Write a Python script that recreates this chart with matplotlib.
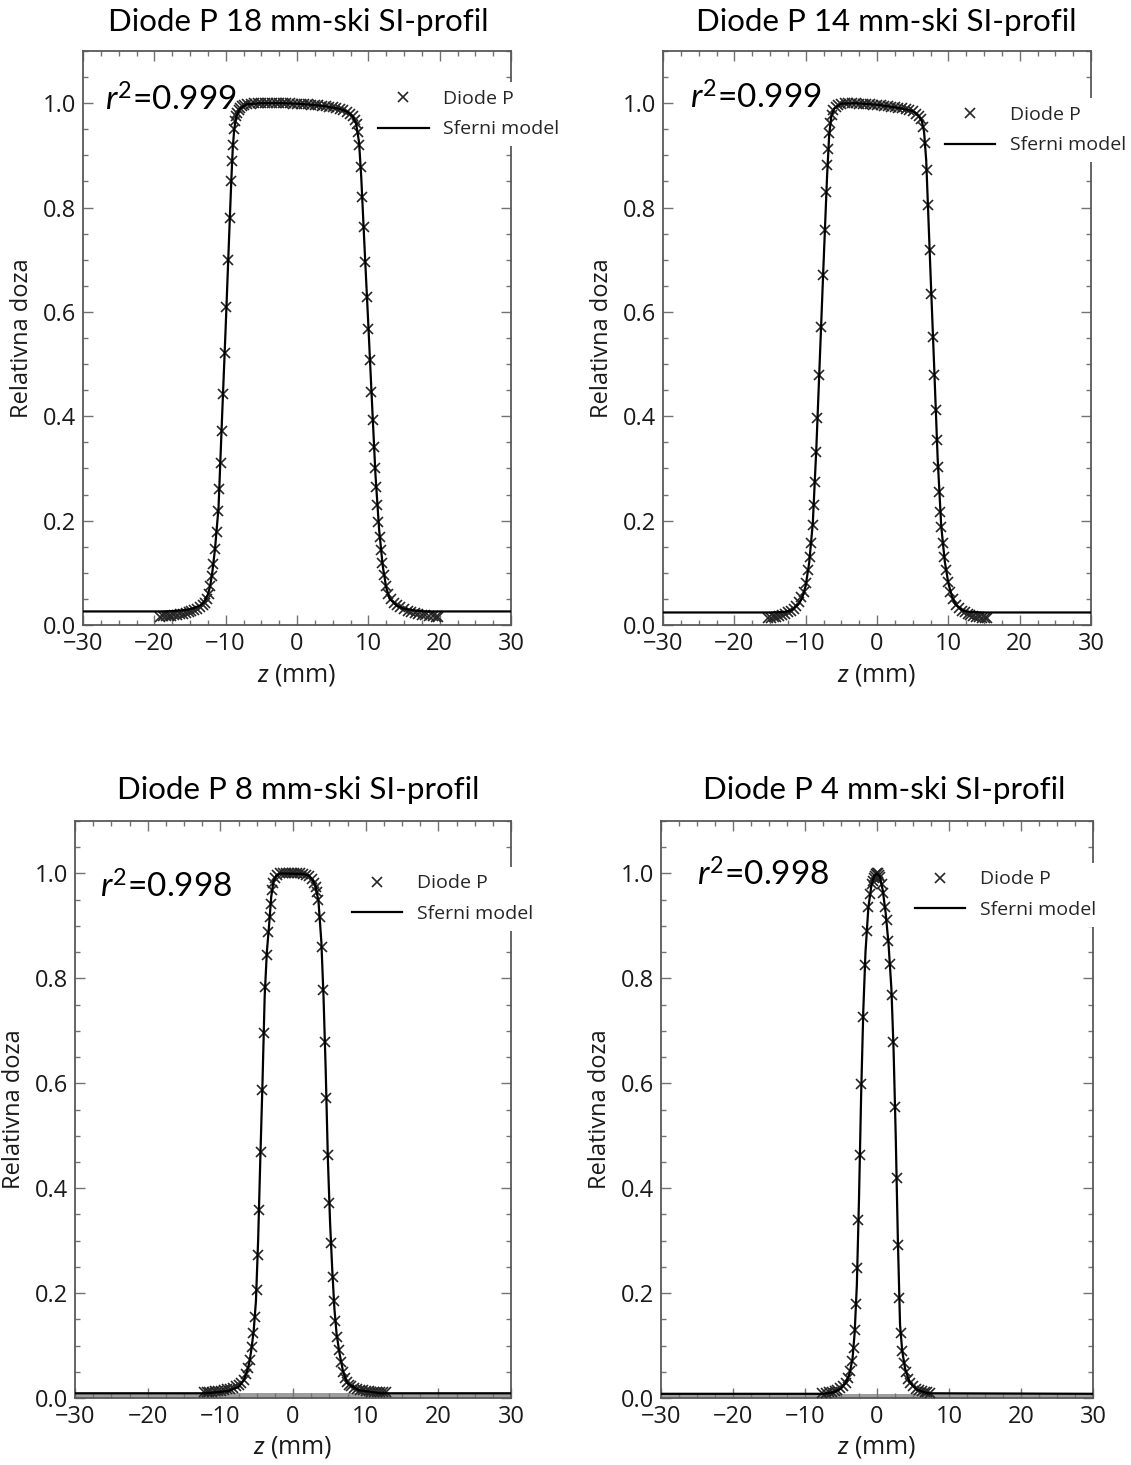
import matplotlib
matplotlib.use("Agg")
import matplotlib.pyplot as plt
from matplotlib.ticker import MultipleLocator, AutoMinorLocator

plt.rcParams['font.family'] = ['Open Sans', 'DejaVu Sans']
plt.rcParams['mathtext.fontset'] = 'custom'
plt.rcParams['mathtext.rm'] = 'Lato'
plt.rcParams['mathtext.it'] = 'Lato:italic'

# ---------------- data ----------------
titles = ["Diode P 18 mm-ski SI-profil", "Diode P 14 mm-ski SI-profil",
          "Diode P 8 mm-ski SI-profil", "Diode P 4 mm-ski SI-profil"]
r2_labels = ["0.999", "0.999", "0.998", "0.998"]

# 18 mm measured
z_18 = [-19.2, -18.8, -18.4, -18.0, -17.6, -17.2, -16.8, -16.4, -16.0, -15.6,
        -15.2, -14.8, -14.4, -14.0, -13.6, -13.2, -12.9, -12.6, -12.4, -12.2,
        -11.96, -11.73, -11.49, -11.26, -11.03, -10.89, -10.72, -10.58, -10.38, -10.15,
        -9.9, -9.64, -9.42, -9.22, -9.1, -8.99, -8.9, -8.75, -8.6, -8.4,
        -8.2, -8.0, -7.7, -7.4, -7.0, -6.5, -6.0, -5.5, -5.0, -4.5,
        -4.0, -3.5, -3.0, -2.5, -2.0, -1.5, -1.0, -0.5, 0.0, 0.5,
        1.0, 1.5, 2.0, 2.5, 3.0, 3.5, 4.0, 4.5, 5.0, 5.5,
        6.0, 6.5, 7.0, 7.4, 7.8, 8.1, 8.37, 8.6, 8.74, 8.93,
        9.13, 9.33, 9.57, 9.80, 10.02, 10.23, 10.44, 10.63, 10.81, 10.96,
        11.08, 11.25, 11.42, 11.6, 11.78, 11.98, 12.2, 12.45, 12.8, 13.2,
        13.6, 14.0, 14.5, 15.0, 15.5, 16.0, 16.5, 17.0, 17.5, 18.0,
        18.5, 19.0, 19.5, 19.8]
d_18 = [0.016, 0.017, 0.017, 0.018, 0.018, 0.019, 0.020, 0.021, 0.022, 0.023,
        0.024, 0.026, 0.028, 0.030, 0.034, 0.038, 0.043, 0.050, 0.060, 0.075,
        0.094, 0.117, 0.146, 0.179, 0.219, 0.261, 0.311, 0.372, 0.443, 0.522,
        0.610, 0.700, 0.780, 0.850, 0.890, 0.920, 0.950, 0.965, 0.975, 0.982,
        0.987, 0.991, 0.994, 0.996, 0.998, 0.999, 1.000, 1.000, 1.000, 1.000,
        1.000, 1.000, 1.000, 1.000, 1.000, 1.000, 1.000, 0.999, 0.999, 0.999,
        0.998, 0.998, 0.997, 0.997, 0.996, 0.995, 0.994, 0.993, 0.992, 0.990,
        0.989, 0.987, 0.984, 0.980, 0.975, 0.968, 0.961, 0.945, 0.920, 0.878,
        0.820, 0.763, 0.696, 0.629, 0.568, 0.508, 0.447, 0.393, 0.342, 0.300,
        0.265, 0.230, 0.198, 0.169, 0.144, 0.118, 0.095, 0.075, 0.060, 0.050,
        0.043, 0.038, 0.034, 0.030, 0.027, 0.025, 0.023, 0.022, 0.020, 0.019,
        0.018, 0.017, 0.016, 0.016]
zm_18 = [-30, -19, -17, -15.5, -14.5, -13.5, -13, -12.5, -12.2, -11.9,
         -11.5, -11, -10.5, -10, -9.5, -9.2, -9.0, -8.8, -8.5, -8,
         -7, -5, -2, 0, 2, 4, 6, 7, 7.8, 8.3,
         8.7, 9.0, 9.5, 10, 10.5, 11, 11.5, 12, 12.5, 13,
         14, 15, 16.5, 18, 30]
dm_18 = [0.026, 0.026, 0.027, 0.029, 0.032, 0.038, 0.045, 0.058, 0.073, 0.098,
         0.145, 0.225, 0.40, 0.57, 0.75, 0.855, 0.915, 0.95, 0.975, 0.99,
         0.998, 1.0, 1.0, 0.999, 0.997, 0.994, 0.989, 0.984, 0.975, 0.96,
         0.925, 0.86, 0.715, 0.575, 0.43, 0.288, 0.185, 0.115, 0.072, 0.05,
         0.037, 0.031, 0.028, 0.026, 0.026]

# 14 mm measured
z_14 = [-15.3, -14.9, -14.5, -14.1, -13.7, -13.3, -12.9, -12.5, -12.1, -11.7,
        -11.3, -10.9, -10.6, -10.3, -9.95, -9.65, -9.42, -9.22, -9.02, -8.85,
        -8.69, -8.53, -8.35, -8.11, -7.85, -7.56, -7.31, -7.11, -6.96, -6.85,
        -6.72, -6.55, -6.35, -6.1, -5.8, -5.4, -5.0, -4.5, -4.0, -3.5,
        -3.0, -2.5, -2.0, -1.5, -1.0, -0.5, 0.0, 0.5, 1.0, 1.5,
        2.0, 2.5, 3.0, 3.5, 4.0, 4.5, 5.0, 5.5, 5.9, 6.2,
        6.5, 6.73, 6.96, 7.15, 7.39, 7.62, 7.86, 8.06, 8.25, 8.41,
        8.55, 8.69, 8.86, 9.02, 9.22, 9.42, 9.65, 9.95, 10.3, 10.7,
        11.1, 11.5, 11.9, 12.3, 12.7, 13.1, 13.5, 13.9, 14.3, 14.7,
        15.1, 15.4]
d_14 = [0.013, 0.014, 0.015, 0.016, 0.017, 0.019, 0.021, 0.024, 0.027, 0.031,
        0.037, 0.045, 0.053, 0.063, 0.080, 0.105, 0.131, 0.157, 0.192, 0.230,
        0.275, 0.332, 0.396, 0.479, 0.571, 0.670, 0.757, 0.830, 0.881, 0.913,
        0.942, 0.962, 0.977, 0.987, 0.993, 0.997, 0.999, 1.000, 1.000, 1.000,
        1.000, 0.999, 0.999, 0.998, 0.998, 0.997, 0.997, 0.996, 0.995, 0.994,
        0.993, 0.992, 0.991, 0.990, 0.988, 0.987, 0.985, 0.980, 0.975, 0.970,
        0.955, 0.923, 0.872, 0.805, 0.718, 0.635, 0.552, 0.479, 0.412, 0.354,
        0.303, 0.255, 0.217, 0.188, 0.157, 0.131, 0.105, 0.082, 0.063, 0.049,
        0.039, 0.032, 0.027, 0.024, 0.021, 0.019, 0.017, 0.016, 0.015, 0.014,
        0.013, 0.013]
zm_14 = [-30, -15, -13, -12, -11, -10.5, -10, -9.5, -9, -8.5,
         -8, -7.5, -7, -6.7, -6.4, -6, -5, -3, 0, 3,
         5, 5.8, 6.3, 6.6, 6.9, 7.5, 8, 8.5, 9, 9.5,
         10, 10.5, 11, 12, 13, 15, 30]
dm_14 = [0.024, 0.024, 0.025, 0.028, 0.040, 0.052, 0.075, 0.120, 0.195, 0.340,
         0.515, 0.690, 0.860, 0.940, 0.975, 0.990, 0.999, 1.0, 0.997, 0.991,
         0.985, 0.977, 0.965, 0.945, 0.890, 0.675, 0.500, 0.320, 0.190, 0.122,
         0.080, 0.055, 0.040, 0.028, 0.025, 0.024, 0.024]

# 8 mm measured
z_8 = [-12.3, -11.9, -11.5, -11.1, -10.7, -10.3, -9.9, -9.5, -9.1, -8.7,
       -8.3, -7.9, -7.5, -7.1, -6.8, -6.5, -6.2, -5.91, -5.68, -5.46,
       -5.23, -4.99, -4.86, -4.69, -4.47, -4.24, -4.02, -3.85, -3.62, -3.39,
       -3.16, -3.07, -2.93, -2.75, -2.5, -2.2, -1.8, -1.4, -1.0, -0.6,
       -0.2, 0.2, 0.6, 1.0, 1.4, 1.8, 2.2, 2.6, 2.9, 3.1,
       3.26, 3.48, 3.71, 3.95, 4.17, 4.4, 4.57, 4.78, 4.99, 5.23,
       5.46, 5.64, 5.82, 6.05, 6.3, 6.55, 6.85, 7.1, 7.4, 7.7,
       8.0, 8.4, 8.8, 9.2, 9.6, 10.0, 10.4, 10.8, 11.2, 11.6,
       12.0, 12.4, 12.8]
d_8 = [0.011, 0.011, 0.012, 0.012, 0.013, 0.013, 0.014, 0.015, 0.017, 0.018,
       0.020, 0.022, 0.025, 0.029, 0.035, 0.045, 0.058, 0.072, 0.098, 0.123,
       0.155, 0.206, 0.272, 0.358, 0.469, 0.587, 0.695, 0.783, 0.844, 0.888,
       0.917, 0.942, 0.968, 0.982, 0.992, 0.997, 1.000, 1.000, 1.000, 1.000,
       1.000, 1.000, 1.000, 1.000, 0.999, 0.998, 0.996, 0.990, 0.982, 0.975,
       0.965, 0.950, 0.917, 0.860, 0.777, 0.679, 0.571, 0.463, 0.371, 0.295,
       0.231, 0.184, 0.146, 0.117, 0.091, 0.068, 0.050, 0.038, 0.030, 0.025,
       0.022, 0.020, 0.018, 0.016, 0.015, 0.014, 0.013, 0.012, 0.012, 0.011,
       0.011, 0.011, 0.011]
zm_8 = [-30, -12, -9, -7.5, -6.8, -6.3, -6.0, -5.7, -5.4, -5.1,
        -4.8, -4.5, -4.2, -3.9, -3.6, -3.3, -3.0, -2.7, -2.3, -1.8,
        1.4, 2.2, 2.7, 3.1, 3.5, 3.9, 4.2, 4.5, 4.8, 5.1,
        5.4, 5.7, 6.0, 6.4, 6.9, 7.5, 9, 12, 30]
dm_8 = [0.009, 0.009, 0.013, 0.021, 0.033, 0.052, 0.068, 0.095, 0.130, 0.185,
        0.300, 0.455, 0.600, 0.765, 0.850, 0.900, 0.955, 0.984, 0.996, 1.000,
        0.999, 0.996, 0.988, 0.975, 0.948, 0.870, 0.765, 0.625, 0.455, 0.335,
        0.245, 0.170, 0.122, 0.085, 0.050, 0.028, 0.015, 0.009, 0.009]

# 4 mm measured
z_4 = [-7.6, -7.1, -6.7, -6.3, -5.9, -5.5, -5.1, -4.7, -4.35, -4.0,
       -3.7, -3.45, -3.25, -3.06, -2.9, -2.74, -2.58, -2.38, -2.17, -1.92,
       -1.68, -1.45, -1.2, -0.98, -0.72, -0.6, -0.45, -0.3, -0.15, 0.0,
       0.15, 0.3, 0.45, 0.65, 0.85, 1.11, 1.34, 1.57, 1.81, 2.04,
       2.26, 2.5, 2.74, 2.88, 3.06, 3.29, 3.5, 3.75, 4.0, 4.3,
       4.6, 5.0, 5.4, 5.8, 6.2, 6.6, 7.0, 7.4]
d_4 = [0.010, 0.010, 0.011, 0.012, 0.014, 0.016, 0.019, 0.023, 0.029, 0.038,
       0.052, 0.070, 0.095, 0.130, 0.180, 0.247, 0.339, 0.463, 0.599, 0.726,
       0.825, 0.891, 0.936, 0.961, 0.980, 0.986, 0.992, 0.996, 0.999, 1.000,
       1.000, 0.998, 0.993, 0.980, 0.962, 0.936, 0.911, 0.872, 0.828, 0.768,
       0.679, 0.555, 0.419, 0.292, 0.190, 0.123, 0.090, 0.066, 0.050, 0.037,
       0.029, 0.022, 0.018, 0.015, 0.013, 0.012, 0.011, 0.010]
zm_4 = [-30, -7.5, -6, -5, -4.3, -3.8, -3.4, -3.1, -2.8, -2.5,
        -2.2, -1.9, -1.6, -1.2, -0.8, -0.4, 0, 0.4, 0.8, 1.2,
        1.6, 2.0, 2.3, 2.6, 2.9, 3.2, 3.5, 3.9, 4.5, 5.5,
        7, 30]
dm_4 = [0.008, 0.008, 0.011, 0.018, 0.030, 0.047, 0.075, 0.125, 0.215, 0.380,
        0.580, 0.740, 0.850, 0.935, 0.975, 0.995, 1.000, 0.994, 0.968, 0.925,
        0.866, 0.780, 0.665, 0.500, 0.300, 0.140, 0.090, 0.056, 0.031, 0.016,
        0.009, 0.008]

measured = [(z_18, d_18), (z_14, d_14), (z_8, d_8), (z_4, d_4)]
models = [(zm_18, dm_18), (zm_14, dm_14), (zm_8, dm_8), (zm_4, dm_4)]

# ---------------- layout ----------------
W, H = 1131, 1465
fig = plt.figure(figsize=(W / 100, H / 100), dpi=100)
fig.patch.set_facecolor('white')

# [left, right, top, bottom] in pixels
boxes = [(83, 511, 51, 625), (663, 1091, 51, 625),
         (75, 511, 821, 1398), (661, 1093, 821, 1398)]
title_pos = [(298, 22), (886, 22), (298, 790), (884, 790)]
legend_anchor = [(0.671, 0.946), (0.640, 0.918), (0.617, 0.921), (0.569, 0.928)]
r2_pos = [(-26.9, 1.006), (-26.2, 1.010), (-26.5, 0.973), (-25.0, 0.996)]

for i in range(4):
    l, r, t, b = boxes[i]
    ax = fig.add_axes([l / W, 1 - b / H, (r - l) / W, (b - t) / H])
    zm, dm = models[i]
    zd, dd = measured[i]
    if i >= 2:
        ax.axhspan(0, dm[0], color='0.62', lw=0, zorder=1)
    ax.plot(zd, dd, linestyle='none', marker='x', ms=7, mew=1.2,
            color='0.15', label='Diode P', zorder=3)
    ax.plot(zm, dm, color='black', lw=1.6, label='Sferni model', zorder=4)

    ax.set_xlim(-30, 30)
    ax.set_ylim(0, 1.1)
    ax.xaxis.set_major_locator(MultipleLocator(10))
    ax.yaxis.set_major_locator(MultipleLocator(0.2))
    ax.xaxis.set_minor_locator(AutoMinorLocator(4))
    ax.yaxis.set_minor_locator(AutoMinorLocator(4))
    ax.yaxis.set_major_formatter(plt.FuncFormatter(lambda v, p: f"{v:.1f}"))
    ax.tick_params(which='both', direction='in', top=True, right=True,
                   color='0.45', width=1.0)
    ax.tick_params(which='major', length=7, labelsize=17, pad=5,
                   labelcolor='0.1')
    ax.tick_params(which='minor', length=3.5)
    for s in ax.spines.values():
        s.set_color('0.35')
        s.set_linewidth(1.3)

    ax.set_ylabel('Relativna doza', fontsize=17, color='0.1', labelpad=6)
    ax.set_xlabel(r'$\mathit{z}$ (mm)', fontsize=18, color='0.1', labelpad=4)

    ax.text(r2_pos[i][0], r2_pos[i][1],
            r'$\mathit{r}^{\mathrm{2}}$=' + r2_labels[i],
            fontsize=24, family=['Lato', 'DejaVu Sans'], ha='left', va='center',
            color='black', zorder=6)

    leg = ax.legend(loc='upper left', bbox_to_anchor=legend_anchor[i],
                    borderaxespad=0, frameon=True, fontsize=14,
                    handlelength=2.6, handletextpad=0.75, labelspacing=0.65,
                    numpoints=1, borderpad=0.4)
    leg.get_frame().set_facecolor('white')
    leg.get_frame().set_edgecolor('none')
    leg.get_frame().set_alpha(1.0)
    for txt in leg.get_texts():
        txt.set_color('0.15')

    tx, ty = title_pos[i]
    fig.text(tx / W, 1 - ty / H, titles[i], fontsize=22.5,
             family=['Lato', 'DejaVu Sans'], ha='center', va='center',
             color='black')

fig.savefig('out.png', dpi=100, facecolor='white')
